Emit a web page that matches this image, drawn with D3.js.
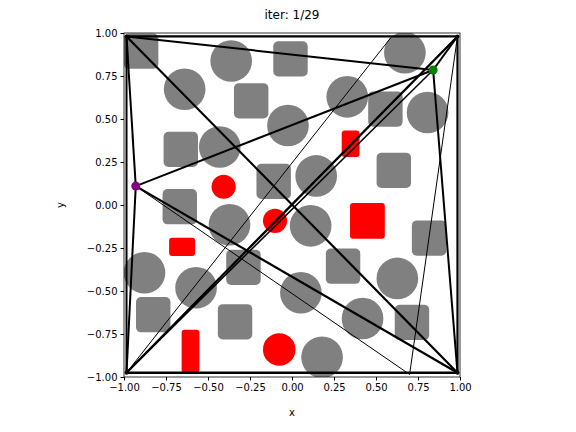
<!DOCTYPE html><html><head><meta charset="utf-8"><script src="https://cdn.jsdelivr.net/npm/d3@7"></script>
<style>body{margin:0;background:#fff}</style></head><body><svg id="c" width="576" height="432"></svg>
<script>
const ticks=[-1,-0.75,-0.5,-0.25,0,0.25,0.5,0.75,1];
const grayCircles=[[0.672,0.885],[-0.362,0.837],[-0.639,0.673],[0.329,0.629],[0.807,0.538],[-0.024,0.462],[-0.43,0.337],[0.144,0.169],[-0.372,-0.115],[0.111,-0.121],[-0.878,-0.394],[-0.571,-0.481],[0.053,-0.51],[0.42,-0.66],[0.627,-0.427],[0.179,-0.885]];
const graySquares=[[-0.898,0.894],[-0.009,0.85],[-0.243,0.606],[0.556,0.558],[-0.662,0.323],[-0.109,0.138],[0.606,0.202],[-0.668,-0.01],[0.816,-0.192],[-0.289,-0.362],[0.304,-0.356],[-0.826,-0.638],[-0.339,-0.679],[0.714,-0.683]];
const redCircles=[[-0.407,0.106,0.072],[-0.101,-0.092,0.072],[-0.076,-0.84,0.097]];
const redRects=[[0.349,0.356,0.106,0.154],[0.449,-0.092,0.207,0.207],[-0.654,-0.244,0.155,0.106],[-0.604,-0.85,0.106,0.25]];
const nodes={TL:[-0.985,0.98],TR:[0.985,0.98],BL:[-0.985,-0.975],BR:[0.985,-0.975],G:[0.84,0.785],P:[-0.93,0.11],B1:[0.7,-0.985],T1:[0.59,0.975]};
const edges=[["TL","TR",2.2],["TL","G",2],["TL","BL",2],["TL","BR",2.2],["TL","P",2],["P","BL",2],["BL","BR",2.5],["BL","TR",2.2],["BL","TR",1.5],["BL","G",1.5],["TR","BR",2.2],["TR","G",2],["G","BR",2],["P","G",2],["P","BR",2.2],["P","B1",1],["BL","T1",1],["B1","TR",1],["BL","TR",1]];
const svg=d3.select("#c");
const L=124,R=460,T=33,B=377;
const x=d3.scaleLinear().domain([-1,1]).range([L,R]);
const y=d3.scaleLinear().domain([-1,1]).range([B,T]);
svg.append("clipPath").attr("id","cl").append("rect").attr("x",L).attr("y",T).attr("width",R-L).attr("height",B-T);
const g=svg.append("g").attr("clip-path","url(#cl)");
const sx=v=>x(v)-x(0), sy=v=>y(0)-y(v);
const cr=0.124,sq=0.205;
g.selectAll(".gc").data(grayCircles).join("circle").attr("cx",d=>x(d[0])).attr("cy",d=>y(d[1])).attr("r",sx(cr)).attr("fill","#808080");
g.selectAll(".gs").data(graySquares).join("rect").attr("x",d=>x(d[0]-sq/2)).attr("y",d=>y(d[1]+sq/2)).attr("width",sx(sq)).attr("height",sy(sq)).attr("rx",5).attr("fill","#808080");
g.selectAll(".rc").data(redCircles).join("circle").attr("cx",d=>x(d[0])).attr("cy",d=>y(d[1])).attr("r",d=>sx(d[2])).attr("fill","red");
g.selectAll(".rr").data(redRects).join("rect").attr("x",d=>x(d[0]-d[2]/2)).attr("y",d=>y(d[1]+d[3]/2)).attr("width",d=>sx(d[2])).attr("height",d=>sy(d[3])).attr("rx",3).attr("fill","red");
g.selectAll(".e").data(edges).join("line").attr("x1",d=>x(nodes[d[0]][0])).attr("y1",d=>y(nodes[d[0]][1])).attr("x2",d=>x(nodes[d[1]][0])).attr("y2",d=>y(nodes[d[1]][1])).attr("stroke","black").attr("stroke-width",d=>d[2]);
g.selectAll(".cn").data(["TL","TR","BL","BR"]).join("circle").attr("cx",d=>x(nodes[d][0])).attr("cy",d=>y(nodes[d][1])).attr("r",2).attr("fill","black");
g.append("circle").attr("cx",x(nodes.G[0])).attr("cy",y(nodes.G[1])).attr("r",4.5).attr("fill","green");
g.append("circle").attr("cx",x(nodes.P[0])).attr("cy",y(nodes.P[1])).attr("r",4.5).attr("fill","purple");
const fmt=d3.format(".2f");
svg.append("g").attr("transform",`translate(0,${B})`).call(d3.axisBottom(x).tickValues(ticks).tickFormat(fmt).tickSize(3.5).tickPadding(3)).call(a=>a.select(".domain").remove()).selectAll("text").attr("font-size",10).attr("font-family","DejaVu Sans").attr("fill","black");
svg.append("g").attr("transform",`translate(${L},0)`).call(d3.axisLeft(y).tickValues(ticks).tickFormat(fmt).tickSize(3.5).tickPadding(3)).call(a=>a.select(".domain").remove()).selectAll("text").attr("font-size",10).attr("font-family","DejaVu Sans").attr("fill","black");
svg.append("rect").attr("x",L).attr("y",T).attr("width",R-L).attr("height",B-T).attr("fill","none").attr("stroke","black").attr("stroke-width",0.8);
svg.append("text").attr("x",(L+R)/2).attr("y",19).attr("text-anchor","middle").attr("font-size",12).attr("font-family","DejaVu Sans").text("iter: 1/29");
svg.append("text").attr("x",(L+R)/2).attr("y",416).attr("text-anchor","middle").attr("font-size",10).attr("font-family","DejaVu Sans").text("x");
svg.append("text").attr("transform",`translate(64,${(T+B)/2}) rotate(-90)`).attr("text-anchor","middle").attr("font-size",10).attr("font-family","DejaVu Sans").text("y");
</script></body></html>
